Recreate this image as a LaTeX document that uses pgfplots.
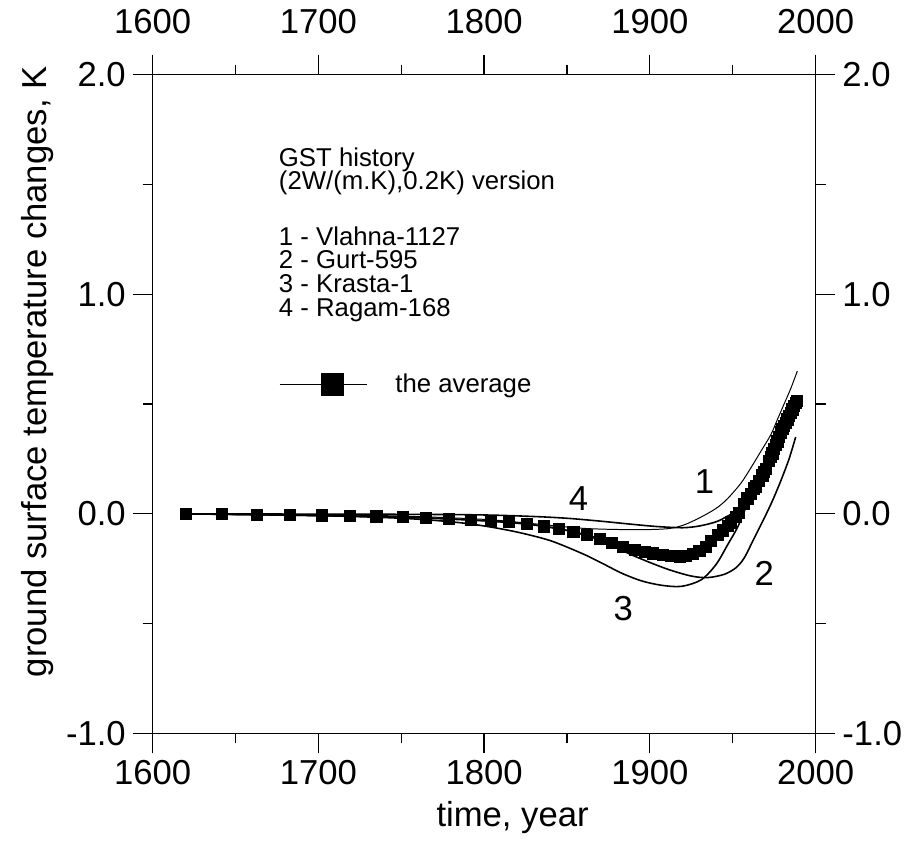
\documentclass[border=0pt]{standalone}
\usepackage{fontspec}
\setmainfont{Liberation Sans}
\usepackage{pgfplots}
\pgfplotsset{compat=1.18}

\pgfplotsset{
  gstframe/.style={
    width=333.5bp, height=331.5bp, scale only axis,
    xmin=1600, xmax=2000, ymin=-1, ymax=2,
    xtick={1600,1700,1800,1900,2000},
    ytick={-1,0,1,2},
    minor x tick num=1, minor y tick num=1,
    tick align=outside,
    major tick length=10bp, minor tick length=5bp,
    every tick/.style={black, line width=0.6pt},
    axis line style={line width=0.7pt},
    ticklabel style={font=\fontsize{17.5}{20}\selectfont},
    /pgf/number format/assume math mode=true,
    xticklabel style={/pgf/number format/1000 sep={}},
    yticklabel style={/pgf/number format/.cd, fixed, fixed zerofill, precision=1},
  },
}

\begin{document}
\setlength{\lineskiplimit}{-10pt}
\begin{tikzpicture}
\begin{axis}[
  gstframe,
  xtick pos=bottom, ytick pos=left,
  xlabel={time, year},
  ylabel={ground surface temperature changes, K},
  label style={font=\fontsize{17.5}{20}\selectfont},
  xlabel style={at={(axis description cs:0.543,-0.128)}, anchor=center},
  ylabel style={at={(axis description cs:-0.174,0.549)}, anchor=center},
  legend style={at={(axis cs:1676,0.588)}, anchor=west, draw=none, fill=none,
    inner sep=0pt, font=\fontsize{13}{12}\selectfont,
    /tikz/every even column/.append style={column sep=0bp}},
  legend cell align=left,
  clip=false,
]

% 1 - Vlahna-1127
\addplot[black, line width=0.5pt, smooth, forget plot] coordinates {
(1620,0) (1700,-0.004) (1750,-0.01) (1800,-0.025) (1830,-0.045) (1860,-0.066)
(1890,-0.072) (1910,-0.068) (1920,-0.052) (1930,-0.018) (1940,0.025) (1947,0.07)
(1955,0.14) (1961,0.21) (1967,0.285) (1973,0.36) (1977,0.43) (1981,0.50)
(1985,0.57) (1989,0.65)};

% 2 - Gurt-595
\addplot[black, line width=0.8pt, smooth, forget plot] coordinates {
(1620,0) (1700,-0.008) (1750,-0.015) (1800,-0.032) (1830,-0.05) (1850,-0.075)
(1870,-0.12) (1890,-0.19) (1910,-0.25) (1925,-0.283) (1935,-0.29) (1945,-0.275)
(1952,-0.245) (1957,-0.2) (1963,-0.11) (1969,-0.02) (1974,0.06) (1979,0.15)
(1984,0.25) (1988,0.35)};

% 3 - Krasta-1
\addplot[black, line width=0.8pt, smooth, forget plot] coordinates {
(1620,0) (1700,-0.008) (1750,-0.02) (1780,-0.036) (1800,-0.055) (1820,-0.083)
(1840,-0.122) (1859,-0.18) (1870,-0.22) (1883,-0.27) (1895,-0.305) (1907,-0.325)
(1919,-0.33) (1931,-0.30) (1940,-0.23) (1947,-0.14) (1953,-0.06) (1958,0.03)
(1963,0.115) (1968,0.175) (1973,0.26) (1979,0.37) (1985,0.46) (1989,0.515)};

% 4 - Ragam-168
\addplot[black, line width=0.8pt, smooth, forget plot] coordinates {
(1620,0) (1750,-0.002) (1800,-0.005) (1830,-0.012) (1850,-0.02) (1870,-0.033)
(1890,-0.048) (1905,-0.058) (1920,-0.063) (1930,-0.055) (1940,-0.036) (1947,-0.01)
(1953,0.018) (1959,0.08) (1963,0.12) (1968,0.18) (1973,0.265) (1979,0.375)
(1985,0.465) (1989,0.515)};

% the average
\addplot[black, line width=0.6pt, smooth, mark=square*, mark size=2.8bp,
  legend image code/.code={
    \draw[black, line width=0.6pt] (0bp,0bp) -- (44bp,0bp);
    \fill[black] (21bp,-5.5bp) rectangle (32bp,5.5bp);
    \path (56bp,0bp);}]
coordinates {
(1620,0.000) (1642,-0.002) (1663,-0.004) (1683,-0.006) (1702,-0.008) (1719,-0.010)
(1735,-0.012) (1751,-0.015) (1765,-0.018) (1779,-0.022) (1792,-0.027) (1804,-0.032)
(1815,-0.038) (1826,-0.047) (1836,-0.058) (1845,-0.069) (1854,-0.082) (1862,-0.095)
(1870,-0.115) (1877,-0.132) (1884,-0.150) (1891,-0.165) (1897,-0.174) (1902,-0.180)
(1908,-0.186) (1913,-0.191) (1918,-0.194) (1922,-0.192) (1926,-0.184) (1930,-0.170)
(1934,-0.150) (1937,-0.125) (1941,-0.095) (1944,-0.075) (1947,-0.055) (1949,-0.040)
(1952,-0.015) (1954,0.005) (1957,0.045) (1959,0.070) (1961,0.090) (1963,0.115)
(1964,0.125) (1966,0.150) (1968,0.175) (1969,0.190) (1970,0.205) (1972,0.240)
(1973,0.260) (1974,0.275) (1975,0.295) (1976,0.315) (1977,0.330) (1978,0.350)
(1979,0.370) (1980,0.385) (1981,0.400) (1982,0.415) (1983,0.430) (1984,0.445)
(1985,0.460) (1986,0.475) (1987,0.490) (1988,0.505) (1989,0.515)};
\addlegendentry{the average}

\node[anchor=north west, inner sep=0pt, align=left,
  font=\fontsize{13}{12}\selectfont] at (axis cs:1676,1.67)
  {GST history\\(2W/(m.K),0.2K) version};
\node[anchor=north west, inner sep=0pt, align=left,
  font=\fontsize{13}{12}\selectfont] at (axis cs:1676,1.31)
  {1 - Vlahna-1127\\2 - Gurt-595\\3 - Krasta-1\\4 - Ragam-168};

\node[font=\fontsize{17.5}{20}\selectfont] at (axis cs:1933,0.145) {1};
\node[font=\fontsize{17.5}{20}\selectfont] at (axis cs:1969,-0.27) {2};
\node[font=\fontsize{17.5}{20}\selectfont] at (axis cs:1884,-0.43) {3};
\node[font=\fontsize{17.5}{20}\selectfont] at (axis cs:1857,0.068) {4};
\end{axis}

\begin{axis}[
  gstframe,
  axis x line*=top, axis y line*=right,
  xticklabel style={yshift=7bp},
]
\addplot[draw=none] coordinates {(1600,0) (2000,0)};
\end{axis}

\pgfresetboundingbox
\path[use as bounding box] (-74bp,-57.5bp) rectangle (381bp,369bp);
\end{tikzpicture}
\end{document}
